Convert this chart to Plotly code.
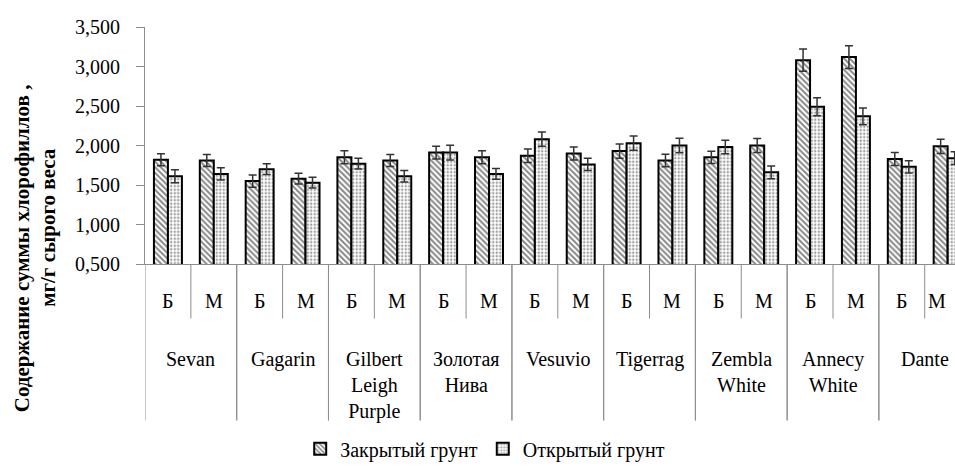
import plotly.graph_objects as go

# Chlorophyll content (mg/g fresh weight) by variety and sampling type
varieties = ["Sevan", "Gagarin", "Gilbert<br>Leigh<br>Purple", "Золотая<br>Нива", "Vesuvio",
             "Tigerrag", "Zembla<br>White", "Annecy<br>White", "Dante"]
subcats = ["Б", "М"]

closed_vals = [1.82, 1.81, 1.55, 1.58, 1.85, 1.81, 1.91, 1.85, 1.87, 1.90,
               1.93, 1.81, 1.85, 2.00, 3.08, 3.12, 1.83, 1.99]
closed_err = [0.075, 0.075, 0.077, 0.068, 0.082, 0.075, 0.082, 0.082, 0.086, 0.082,
              0.090, 0.078, 0.078, 0.090, 0.140, 0.144, 0.082, 0.090]
open_vals = [1.61, 1.64, 1.70, 1.53, 1.77, 1.61, 1.91, 1.64, 2.08, 1.76,
             2.03, 2.00, 1.98, 1.66, 2.49, 2.37, 1.73, 1.84]
open_err = [0.082, 0.077, 0.068, 0.068, 0.068, 0.072, 0.092, 0.068, 0.090, 0.078,
            0.090, 0.092, 0.086, 0.082, 0.114, 0.106, 0.078, 0.082]

series_names = ["Закрытый грунт", "Открытый грунт"]
y_title_lines = ["Содержание суммы хлорофиллов ,", "мг/г сырого веса"]

cats = [f"{v}|{s}" for v in varieties for s in subcats]

FONT = "Liberation Serif"

fig = go.Figure()
fig.add_trace(go.Bar(
    x=cats, y=closed_vals, name=series_names[0],
    marker=dict(color="white", line=dict(color="black", width=2),
                pattern=dict(shape="\\", fgcolor="#111", bgcolor="white", size=4, solidity=0.5)),
    error_y=dict(type="data", array=closed_err, visible=True, color="#333", thickness=1.5, width=4),
))
fig.add_trace(go.Bar(
    x=cats, y=open_vals, name=series_names[1],
    marker=dict(color="white", line=dict(color="black", width=2),
                pattern=dict(shape=".", fgcolor="#444", bgcolor="white", size=3.5, solidity=0.4)),
    error_y=dict(type="data", array=open_err, visible=True, color="#333", thickness=1.5, width=4),
))

annotations = []
shapes = []
axis_gray = "#8c8c8c"

# Inner (Б/М) labels and dividers; the last label sits against the right edge
for i, c in enumerate(cats):
    last = i == len(cats) - 1
    annotations.append(dict(x=i, y=-0.156, xref="x", yref="paper", text=c.split("|")[1],
                            showarrow=False, yanchor="middle",
                            xanchor="right" if last else "center",
                            font=dict(family=FONT, size=20, color="black")))
    if i % 2 == 0:
        shapes.append(dict(type="line", xref="x", yref="paper", x0=i + 0.5, x1=i + 0.5,
                           y0=0, y1=-0.23, line=dict(color=axis_gray, width=1)))
    xd = i - 0.5 if i % 2 == 0 else i + 0.5
    shapes.append(dict(type="line", xref="x", yref="paper", x0=xd, x1=xd,
                       y0=0, y1=-0.66, line=dict(color=axis_gray, width=1)))

# Outer (variety) labels
for j, v in enumerate(varieties):
    annotations.append(dict(x=2 * j + 0.5, y=-0.345, xref="x", yref="paper", text=v,
                            showarrow=False, yanchor="top",
                            font=dict(family=FONT, size=20, color="black")))

# Y-axis title, two bold rotated lines
for txt, xp, yp in zip(y_title_lines, [-0.152, -0.12], [0.066, 0.156]):
    annotations.append(dict(x=xp, y=yp, xref="paper", yref="paper", text=f"<b>{txt}</b>",
                            textangle=-90, showarrow=False, xanchor="center", yanchor="middle",
                            font=dict(family=FONT, size=21, color="black")))

fig.update_layout(
    width=955, height=469,
    margin=dict(l=145, r=0, t=27, b=198),
    paper_bgcolor="white", plot_bgcolor="white",
    barmode="group", bargap=0.39, bargroupgap=0,
    separators=", ",
    font=dict(family=FONT, size=20, color="black"),
    showlegend=True,
    legend=dict(orientation="h", x=0.42, xanchor="center", y=-0.78, yanchor="middle",
                yref="paper", font=dict(family=FONT, size=20, color="black"),
                itemwidth=30, traceorder="normal"),
    annotations=annotations,
    shapes=shapes,
)
fig.update_xaxes(range=[-0.5, 17.16], showticklabels=False, ticks="",
                 showline=True, linecolor=axis_gray, linewidth=1, showgrid=False, zeroline=False)
fig.update_yaxes(range=[0.5, 3.5], tickvals=[0.5, 1.0, 1.5, 2.0, 2.5, 3.0, 3.5], tickformat=".3f",
                 ticks="outside", ticklen=8, tickcolor=axis_gray, ticklabelstandoff=12,
                 showline=True, linecolor=axis_gray, linewidth=1, showgrid=False, zeroline=False,
                 tickfont=dict(family=FONT, size=20, color="black"))

fig.write_html("out.html")
